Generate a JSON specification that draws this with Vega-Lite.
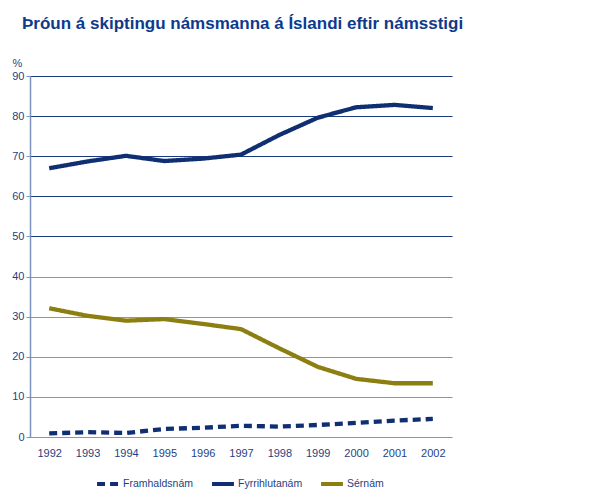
{
  "$schema": "https://vega.github.io/schema/vega-lite/v6.json",
  "width": 422,
  "height": 361,
  "autosize": {"type": "none"},
  "padding": {"left": 30, "top": 76, "right": 163, "bottom": 62},
  "background": "white",
  "title": {
    "text": "Þróun á skiptingu námsmanna á Íslandi eftir námsstigi",
    "anchor": "start",
    "frame": "group",
    "font": "Liberation Sans",
    "fontSize": 17,
    "fontWeight": "bold",
    "color": "#0d3a8c",
    "dx": -8,
    "offset": 24
  },
  "data": {
    "values": [
      {"year": "1992", "series": "Framhaldsnám", "value": 0.9},
      {"year": "1993", "series": "Framhaldsnám", "value": 1.2},
      {"year": "1994", "series": "Framhaldsnám", "value": 1.0},
      {"year": "1995", "series": "Framhaldsnám", "value": 2.0},
      {"year": "1996", "series": "Framhaldsnám", "value": 2.3},
      {"year": "1997", "series": "Framhaldsnám", "value": 2.8},
      {"year": "1998", "series": "Framhaldsnám", "value": 2.6},
      {"year": "1999", "series": "Framhaldsnám", "value": 3.0},
      {"year": "2000", "series": "Framhaldsnám", "value": 3.5},
      {"year": "2001", "series": "Framhaldsnám", "value": 4.1},
      {"year": "2002", "series": "Framhaldsnám", "value": 4.5},
      {"year": "1992", "series": "Fyrrihlutanám", "value": 67.0},
      {"year": "1993", "series": "Fyrrihlutanám", "value": 68.7},
      {"year": "1994", "series": "Fyrrihlutanám", "value": 70.1},
      {"year": "1995", "series": "Fyrrihlutanám", "value": 68.8},
      {"year": "1996", "series": "Fyrrihlutanám", "value": 69.4},
      {"year": "1997", "series": "Fyrrihlutanám", "value": 70.4},
      {"year": "1998", "series": "Fyrrihlutanám", "value": 75.3},
      {"year": "1999", "series": "Fyrrihlutanám", "value": 79.6},
      {"year": "2000", "series": "Fyrrihlutanám", "value": 82.2},
      {"year": "2001", "series": "Fyrrihlutanám", "value": 82.8},
      {"year": "2002", "series": "Fyrrihlutanám", "value": 82.0},
      {"year": "1992", "series": "Sérnám", "value": 32.1},
      {"year": "1993", "series": "Sérnám", "value": 30.2},
      {"year": "1994", "series": "Sérnám", "value": 29.0},
      {"year": "1995", "series": "Sérnám", "value": 29.4},
      {"year": "1996", "series": "Sérnám", "value": 28.2},
      {"year": "1997", "series": "Sérnám", "value": 26.9},
      {"year": "1998", "series": "Sérnám", "value": 22.1},
      {"year": "1999", "series": "Sérnám", "value": 17.5},
      {"year": "2000", "series": "Sérnám", "value": 14.5},
      {"year": "2001", "series": "Sérnám", "value": 13.4},
      {"year": "2002", "series": "Sérnám", "value": 13.4}
    ]
  },
  "mark": {"type": "line", "strokeWidth": 4.3, "strokeCap": "butt", "strokeJoin": "round"},
  "encoding": {
    "x": {
      "field": "year",
      "type": "ordinal",
      "scale": {"type": "point", "padding": 0.5},
      "axis": {
        "title": null,
        "labelAngle": 0,
        "domain": false,
        "ticks": false,
        "labelPadding": 10,
        "labelFont": "Liberation Sans",
        "labelFontSize": 11,
        "labelColor": "#1f3f84"
      }
    },
    "y": {
      "field": "value",
      "type": "quantitative",
      "scale": {"domain": [0, 90], "nice": false},
      "axis": {
        "values": [0, 10, 20, 30, 40, 50, 60, 70, 80, 90],
        "title": "%",
        "titleAngle": 0,
        "titleX": -18,
        "titleY": -10,
        "titleAlign": "left",
        "titleBaseline": "alphabetic",
        "titleFont": "Liberation Sans",
        "titleFontSize": 11,
        "titleFontWeight": "normal",
        "titleColor": "#1f3f84",
        "labelFont": "Liberation Sans",
        "labelFontSize": 11,
        "labelColor": "#1f3f84",
        "labelPadding": 2,
        "tickSize": 4,
        "tickColor": "#7b93bd",
        "domainColor": "#7b93bd",
        "domainWidth": 1.5,
        "grid": true,
        "gridWidth": 1.2,
        "gridColor": {"condition": {"test": "datum.value >= 50", "value": "#1a3a80"}, "value": "#7f96c2"}
      }
    },
    "color": {
      "field": "series",
      "type": "nominal",
      "scale": {
        "domain": ["Framhaldsnám", "Fyrrihlutanám", "Sérnám"],
        "range": ["#0f2f72", "#0f2f72", "#8c7e10"]
      },
      "legend": {
        "orient": "none",
        "direction": "horizontal",
        "legendX": 65,
        "legendY": 395,
        "title": null,
        "symbolType": "stroke",
        "symbolStrokeWidth": 4,
        "symbolSize": 480,
        "labelFont": "Liberation Sans",
        "labelFontSize": 10.5,
        "labelColor": "#1f3f84",
        "labelOffset": 2,
        "columnPadding": 10
      }
    },
    "strokeDash": {
      "field": "series",
      "type": "nominal",
      "scale": {
        "domain": ["Framhaldsnám", "Fyrrihlutanám", "Sérnám"],
        "range": [[8, 5], [1, 0], [1, 0]]
      },
      "legend": null
    }
  },
  "config": {
    "view": {"stroke": null}
  }
}
